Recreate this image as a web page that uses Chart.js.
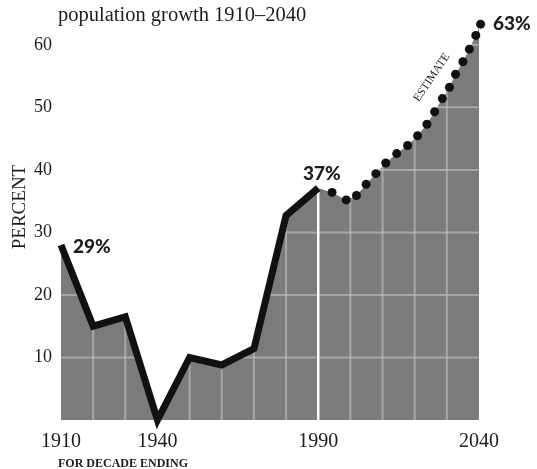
<!DOCTYPE html>
<html>
<head>
<meta charset="utf-8">
<script src="https://cdn.jsdelivr.net/npm/chart.js@4/dist/chart.umd.min.js"></script>
<style>
  html, body { margin: 0; padding: 0; background: #fff; }
  #wrap { width: 537px; height: 469px; }
</style>
</head>
<body>
<div id="wrap"><canvas id="growth"></canvas></div>
<script>
// данные с картинки
const actualYears = [1910, 1920, 1930, 1940, 1950, 1960, 1970, 1980, 1990];
const actualValues = [28, 15, 16.5, 0, 10, 8.8, 11.4, 32.7, 37.1];

const estimateYears = [1994.3, 1998.7, 2001.9, 2004.9, 2007.9, 2011.0, 2014.4, 2017.8, 2020.9,
    2023.8, 2026.2, 2028.6, 2030.8, 2032.7, 2035.0, 2037.0, 2039.0, 2040.5];
const estimateValues = [36.4, 35.2, 35.9, 37.7, 39.4, 41.1, 42.6, 43.9, 45.45,
    47.3, 49.3, 51.4, 53.2, 55.3, 57.3, 59.3, 61.5, 63.3];

const yTicks = [10, 20, 30, 40, 50, 60];
const xTickLabels = [1910, 1940, 1990, 2040];
const decades = [1920, 1930, 1940, 1950, 1960, 1970, 1980, 1990, 2000, 2010, 2020, 2030];

const toPoints = (xs, ys) => xs.map((x, i) => ({ x: x, y: ys[i] }));

const serif = '"Liberation Serif", "DejaVu Serif", serif';
const bold = 'Lato, "DejaVu Sans", sans-serif';

// белая сетка только внутри серой заливки
const gridInFill = {
    id: 'gridInFill',
    afterDatasetDraw(chart, args) {
        if (args.index !== 0) return;
        const ctx = chart.ctx;
        const pts = chart.getDatasetMeta(0).data;
        const xs = chart.scales.x, ys = chart.scales.y;
        const base = ys.getPixelForValue(0);
        ctx.save();
        ctx.beginPath();
        ctx.moveTo(pts[0].x, base);
        pts.forEach(p => ctx.lineTo(p.x, p.y));
        ctx.lineTo(pts[pts.length - 1].x, base);
        ctx.closePath();
        ctx.clip();
        ctx.lineWidth = 2;
        ctx.strokeStyle = 'rgba(195,195,195,0.6)';
        yTicks.forEach(v => {
            const y = ys.getPixelForValue(v);
            ctx.beginPath();
            ctx.moveTo(chart.chartArea.left, y);
            ctx.lineTo(chart.chartArea.right, y);
            ctx.stroke();
        });
        decades.forEach(d => {
            const x = xs.getPixelForValue(d);
            ctx.strokeStyle = d === 1990 ? '#ffffff' : 'rgba(195,195,195,0.6)';
            ctx.lineWidth = d === 1990 ? 2.5 : 2;
            ctx.beginPath();
            ctx.moveTo(x, chart.chartArea.top);
            ctx.lineTo(x, base);
            ctx.stroke();
        });
        ctx.restore();
    }
};

// подписи
const labels = {
    id: 'labels',
    afterDraw(chart) {
        const ctx = chart.ctx;
        ctx.save();
        ctx.fillStyle = '#1c1c1c';
        ctx.textBaseline = 'alphabetic';
        ctx.textAlign = 'left';

        ctx.font = '20.5px ' + serif;
        ctx.fillText('population growth 1910\u20132040', 58, 21);

        ctx.font = 'bold 12px ' + serif;
        ctx.fillText('FOR DECADE ENDING', 58, 467);

        ctx.font = '900 19px ' + bold;
        ctx.fillText('29%', 73, 253);
        ctx.fillText('37%', 303, 180);
        ctx.fillText('63%', 493, 30);

        ctx.save();
        ctx.translate(19, 207);
        ctx.rotate(-Math.PI / 2);
        ctx.textAlign = 'center';
        ctx.font = '19px ' + serif;
        ctx.fillText('PERCENT', 0, 6);
        ctx.restore();

        ctx.save();
        ctx.translate(431, 77);
        ctx.rotate(-56 * Math.PI / 180);
        ctx.textAlign = 'center';
        ctx.font = '11.5px ' + serif;
        ctx.fillText('ESTIMATE', 0, 4);
        ctx.restore();

        ctx.restore();
    }
};

const ctx = document.getElementById('growth').getContext('2d');

const chart = new Chart(ctx, {
    type: 'scatter',
    data: {
        datasets: [
            {
                // заливка под всей кривой
                data: toPoints(actualYears.concat(estimateYears), actualValues.concat(estimateValues)),
                showLine: true,
                fill: 'origin',
                backgroundColor: '#7b7b7b',
                borderWidth: 0,
                pointRadius: 0,
                order: 3,
                clip: false
            },
            {
                // оценка - точки
                data: toPoints(estimateYears, estimateValues),
                showLine: false,
                pointRadius: 4.5,
                pointBackgroundColor: '#111',
                pointBorderWidth: 0,
                order: 2,
                clip: false
            },
            {
                // факт - толстая линия
                data: toPoints(actualYears, actualValues),
                showLine: true,
                borderColor: '#111',
                borderWidth: 7,
                borderJoinStyle: 'miter',
                borderCapStyle: 'butt',
                pointRadius: 0,
                fill: false,
                order: 1,
                clip: false
            }
        ]
    },
    options: {
        responsive: true,
        maintainAspectRatio: false,
        animation: false,
        layout: { padding: { top: 19, right: 58, left: 0, bottom: 0 } },
        plugins: { legend: { display: false }, tooltip: { enabled: false } },
        scales: {
            x: {
                type: 'linear',
                min: 1910,
                max: 2040,
                afterFit: s => { s.height = 49; },
                grid: { display: false, drawTicks: false },
                border: { display: false },
                ticks: {
                    stepSize: 10,
                    autoSkip: false,
                    maxRotation: 0,
                    padding: 10,
                    color: '#1c1c1c',
                    font: { family: serif, size: 20 },
                    callback: v => xTickLabels.includes(v) ? String(v) : ''
                }
            },
            y: {
                min: 0,
                max: 64,
                afterFit: s => { s.width = 61; },
                grid: { display: false, drawTicks: false },
                border: { display: false },
                ticks: {
                    stepSize: 10,
                    padding: 9,
                    color: '#1c1c1c',
                    font: { family: serif, size: 18 },
                    callback: v => yTicks.includes(v) ? String(v) : ''
                }
            }
        }
    },
    plugins: [gridInFill, labels]
});
</script>
</body>
</html>
